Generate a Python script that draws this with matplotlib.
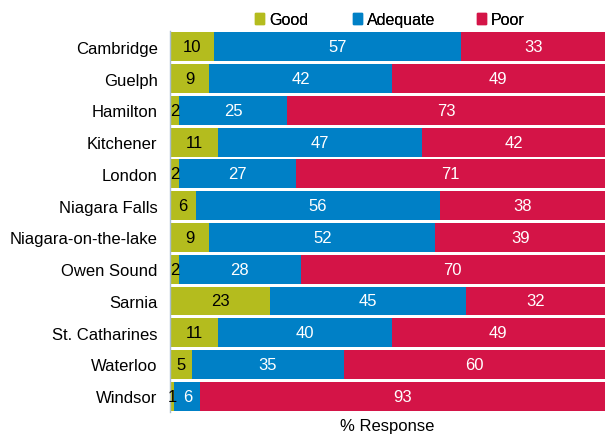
import matplotlib
matplotlib.use("Agg")
import matplotlib.pyplot as plt
from matplotlib.patches import Patch
import numpy as np

cities = ["Cambridge", "Guelph", "Hamilton", "Kitchener", "London", "Niagara Falls",
          "Niagara-on-the-lake", "Owen Sound", "Sarnia", "St. Catharines", "Waterloo", "Windsor"]
good = [10, 9, 2, 11, 2, 6, 9, 2, 23, 11, 5, 1]
adequate = [57, 42, 25, 47, 27, 56, 52, 28, 45, 40, 35, 6]
poor = [33, 49, 73, 42, 71, 38, 39, 70, 32, 49, 60, 93]

series = [("Good", good, "#B4BC1E", "black"),
          ("Adequate", adequate, "#0080C6", "white"),
          ("Poor", poor, "#D41447", "white")]

plt.rcParams['font.family'] = ['Liberation Sans', 'DejaVu Sans']

fig = plt.figure(figsize=(6.05, 4.39), dpi=100)
ax = fig.add_axes([0.281, 0.059, 0.719, 0.868])

y = np.arange(len(cities))
left = np.zeros(len(cities))
for name, vals, col, tcol in series:
    vals = np.array(vals)
    bars = ax.barh(y, vals, left=left, height=0.91, color=col, linewidth=0, label=name)
    for b, v in zip(bars, vals):
        ax.text(b.get_x() + b.get_width() / 2, b.get_y() + b.get_height() / 2, str(v),
                ha="center", va="center", color=tcol, fontsize=12)
    left += vals

ax.set_xlim(0, 100)
ax.set_ylim(len(cities) - 0.5, -0.5)
ax.set_yticks(y)
ax.set_yticklabels(cities, fontsize=12)
ax.tick_params(axis="y", length=0, pad=9)
ax.set_xticks([])
for s in ["top", "right", "bottom"]:
    ax.spines[s].set_visible(False)
ax.spines["left"].set_color("#A8BCD0")
ax.spines["left"].set_linewidth(1)
ax.set_xlabel("% Response", fontsize=12, labelpad=4)

# legend: one entry each, placed where the reference has them
legend_x = [0.421, 0.583, 0.788]
for (name, vals, col, tcol), lx in zip(series, legend_x):
    leg = fig.legend(handles=[Patch(color=col, label=name)], loc="center left",
                     bbox_to_anchor=(lx, 0.953), frameon=False, fontsize=11.5,
                     handlelength=0.6, handleheight=0.6, handletextpad=0.3,
                     borderpad=0, borderaxespad=0)
    fig.add_artist(leg)

fig.savefig("out.png", dpi=100)
